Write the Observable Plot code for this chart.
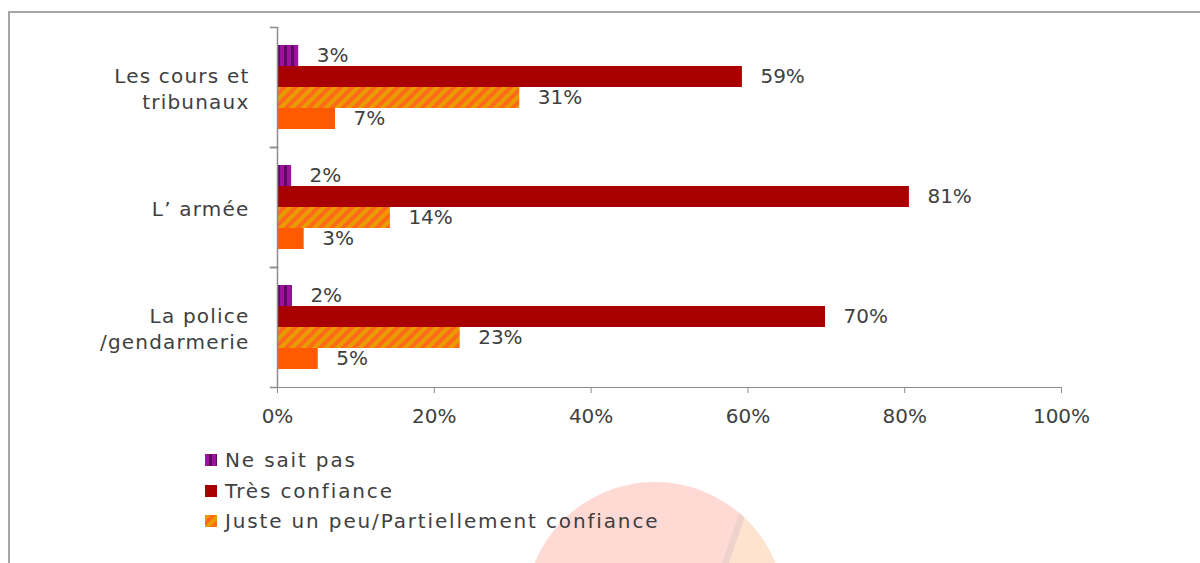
<!DOCTYPE html>
<html>
<head>
<meta charset="utf-8">
<script src="https://cdn.jsdelivr.net/npm/d3@7"></script>
<script src="https://cdn.jsdelivr.net/npm/@observablehq/plot@0.6"></script>
<style>
  html, body { margin: 0; padding: 0; background: #fff; }
  #wrap { position: relative; width: 1200px; height: 563px; overflow: hidden; background: #fff; font-family: "DejaVu Sans", sans-serif; }
  #frame { position: absolute; left: 8px; top: 11px; width: 1200px; height: 600px; border-left: 2px solid #a6a6a6; border-top: 2px solid #a6a6a6; }
  #blob { position: absolute; left: 525px; top: 482px; width: 260px; height: 260px; border-radius: 50%; overflow: hidden; background: #ffd9d4; }
  #blob .shade { position: absolute; left: 0; top: 0; width: 260px; height: 260px; background: #edd3cc; clip-path: polygon(225px 0, 232px 0, 142px 260px, 135px 260px); }
  #blob .beige { position: absolute; left: 0; top: 0; width: 260px; height: 260px; background: #fde4cf; clip-path: polygon(232px 0, 260px 0, 260px 260px, 142px 260px); }
  #chart { position: absolute; left: 0; top: 0; }
  #chart svg text { fill: #404040; }
  #chart svg g[aria-label="fy-axis tick label"] text { letter-spacing: 1.2px; }
  #legend { position: absolute; left: 205px; top: 445px; color: #404040; font-size: 20px; letter-spacing: 1.85px; }
  #legend .item { height: 30.5px; display: flex; align-items: center; white-space: nowrap; }
  #legend svg { margin-right: 8px; }
  #defs { position: absolute; width: 0; height: 0; }
</style>
</head>
<body>
<div id="wrap">
  <svg id="defs" width="0" height="0">
    <defs>
      <pattern id="pat-purple" patternUnits="userSpaceOnUse" width="7" height="10">
        <rect width="7" height="10" fill="#a010a0"></rect>
        <rect x="4" width="3" height="10" fill="#5e0a5e"></rect>
      </pattern>
      <pattern id="pat-hatch" patternUnits="userSpaceOnUse" width="8" height="8" patternTransform="rotate(45)">
        <rect width="8" height="8" fill="#ff6a1a"></rect>
        <rect width="4" height="8" fill="#e99c00"></rect>
      </pattern>
    </defs>
  </svg>
  <div id="frame"></div>
  <div id="blob"><div class="shade"></div><div class="beige"></div></div>
  <div id="chart"></div>
  <div id="legend"></div>
</div>
<script>
// ---- data ----
const categories = ["Les cours et tribunaux", "L’ armée", "La police /gendarmerie"];
const categoryLabels = ["Les cours et\ntribunaux", "L’ armée", "La police\n/gendarmerie"];
const series = ["Ne sait pas", "Très confiance", "Juste un peu/Partiellement confiance", "Pas du tout confiance"];
const neSaitPas = [2.7, 1.8, 1.9];
const tresConfiance = [59.3, 80.6, 69.9];
const justeUnPeu = [30.9, 14.4, 23.3];
const pasConfiance = [7.4, 3.4, 5.2];
const xTicks = [0, 20, 40, 60, 80, 100];
const legendSeries = ["Ne sait pas", "Très confiance", "Juste un peu/Partiellement confiance"];

// ---- styles ----
const fills = ["url(#pat-purple)", "#a80000", "url(#pat-hatch)", "#ff5a00"];
const valuesBySeries = [neSaitPas, tresConfiance, justeUnPeu, pasConfiance];

const records = [];
series.forEach((s, si) => {
  categories.forEach((c, ci) => {
    const v = valuesBySeries[si][ci];
    records.push({cat: c, series: s, value: v, label: Math.round(v) + "%"});
  });
});

const W = 1200, H = 430, ML = 277, MR = 139, MT = 26, MB = 43;
const plotW = W - ML - MR;

const marks = [];
series.forEach((s, si) => {
  marks.push(Plot.barX(records.filter(d => d.series === s), {
    x: "value", y: "series", fy: "cat", fill: fills[si]
  }));
});
marks.push(Plot.text(records, {
  x: "value", y: "series", fy: "cat", text: "label",
  textAnchor: "start", dx: 18, fontSize: 20
}));
marks.push(Plot.ruleX([0], {stroke: "#8c8c8c", strokeWidth: 1.5}));
marks.push(Plot.frame({anchor: "top", insetLeft: -7, insetRight: plotW, stroke: "#8c8c8c", strokeWidth: 1.5}));
marks.push(Plot.frame({anchor: "bottom", insetLeft: -7, insetRight: plotW, stroke: "#8c8c8c", strokeWidth: 1.5}));
marks.push(Plot.axisFy({
  anchor: "left", tickSize: 0, tickPadding: 28, fontSize: 20, lineHeight: 1.3,
  tickFormat: d => categoryLabels[categories.indexOf(d)], label: null
}));

const chart = Plot.plot({
  width: W, height: H,
  marginLeft: ML, marginRight: MR, marginTop: MT, marginBottom: MB,
  style: {fontFamily: "DejaVu Sans", fontSize: "20px", color: "#8c8c8c", background: "transparent", overflow: "visible"},
  fy: {domain: categories, padding: 0, label: null},
  y: {domain: series, paddingInner: 0, paddingOuter: 0.735, axis: null},
  x: {domain: [0, 100], ticks: xTicks, tickFormat: d => d + "%", tickSize: 6, tickPadding: 15, line: true, label: null},
  marks
});
document.getElementById("chart").appendChild(chart);

// legend
const legend = d3.select("#legend");
legendSeries.forEach(s => {
  const si = series.indexOf(s);
  const item = legend.append("div").attr("class", "item");
  const sw = item.append("svg").attr("width", 12).attr("height", 12);
  sw.append("rect").attr("width", 12).attr("height", 12).attr("fill", fills[si]);
  item.append("span").text(s);
});
</script>
</body>
</html>
